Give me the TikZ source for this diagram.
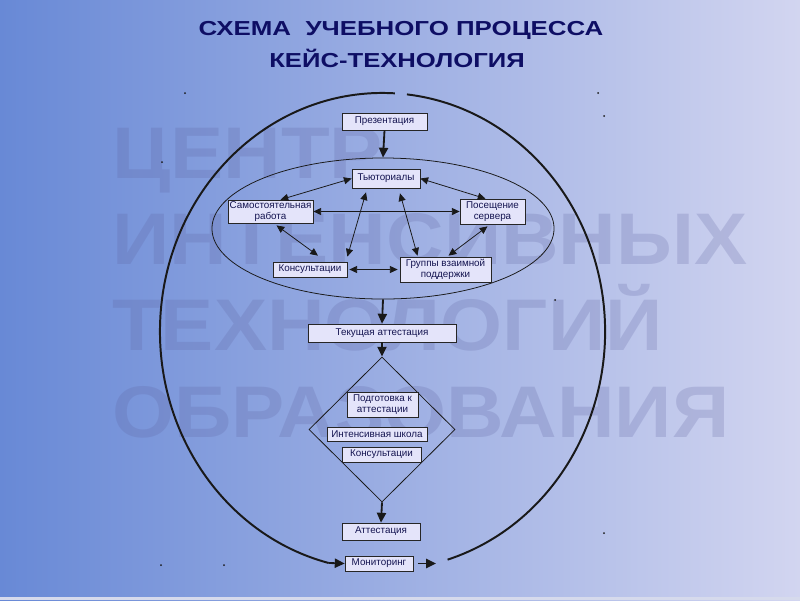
\documentclass[tikz,border=0pt]{standalone}
\usepackage{fontspec}
\setmainfont{Liberation Sans}
\usetikzlibrary{shapes.geometric,arrows.meta,calc}

\definecolor{bgleft}{RGB}{104,137,214}
\definecolor{bgright}{RGB}{210,213,240}
\definecolor{bgstrip}{RGB}{214,218,236}
\definecolor{navy}{RGB}{14,14,100}
\definecolor{boxfill}{RGB}{228,228,250}
\definecolor{boxtext}{RGB}{20,20,80}
\definecolor{wmark}{RGB}{92,96,158}

\begin{document}
\begin{tikzpicture}[
  x=0.025cm, y=-0.025cm,
  title/.style = {font=\fontsize{16}{18}\selectfont\bfseries, text=navy},
  wm/.style    = {font=\fontsize{52}{52}\selectfont\bfseries, text=wmark, text opacity=0.22, inner sep=0pt},
  box/.style   = {draw=black!85, fill=boxfill, line width=0.5pt, inner sep=0pt,
                  align=center, text=boxtext, font=\fontsize{7}{8}\selectfont},
  ring/.style  = {draw=black!90, line width=0.55pt},
  loop/.style  = {draw=black!90, line width=1.4pt},
  link/.style  = {{Triangle[length=5.5pt,width=5pt]}-{Triangle[length=5.5pt,width=5pt]},
                  line width=0.55pt, black!90},
  flow/.style  = {-{Triangle[length=7pt,width=6.5pt]}, line width=1.3pt, black!90},
  speck/.style = {fill=black!90},
]

% outer loop radii: 5.5625cm and 5.9625cm

% ---- background ------------------------------------------------------------
\useasboundingbox (0,0) rectangle (800,600);
\shade[left color=bgleft, right color=bgright] (0,0) rectangle (800,600);
\fill[bgstrip] (0,597) rectangle (800,600);

% ---- watermark -------------------------------------------------------------
\node[wm, anchor=base west] (wmA) at (112,178) {\scalebox{1.09}[1]{ЦЕНТР}};
\node[wm, anchor=base west] (wmB) at (112,264) {\scalebox{1.09}[1]{ИНТЕНСИВНЫХ}};
\node[wm, anchor=base west] (wmC) at (112,350) {\scalebox{1.09}[1]{ТЕХНОЛОГИЙ}};
\node[wm, anchor=base west] (wmD) at (112,437) {\scalebox{1.09}[1]{ОБРАЗОВАНИЯ}};

% ---- title -----------------------------------------------------------------
\node[title] (head) at (401,30) {\scalebox{1.15}[0.9]{СХЕМА\ \ УЧЕБНОГО ПРОЦЕССА}};
\node[title] (sub)  at (397,58) {\scalebox{1.14}[0.9]{КЕЙС-ТЕХНОЛОГИЯ}};

% ---- stray specks ----------------------------------------------------------
\foreach \sx/\sy in {185/93, 598/93, 604/116, 162/162, 555/300, 604/533, 161/565, 224/565}
  \fill[speck] (\sx,\sy) circle (1);

% ---- outer loop ------------------------------------------------------------
\coordinate (hub) at (382.5,331.5);
\node[box, minimum width=1.7cm, minimum height=0.375cm] (monit) at (379,563.5) {Мониторинг};
\coordinate (back) at (436,563.5);
\draw[loop] ($(hub)+(86.8:5.5625cm and 5.9625cm)$) arc[start angle=86.8, end angle=256, x radius=5.5625cm, y radius=5.9625cm];
\draw[flow] ($(hub)+(256:5.5625cm and 5.9625cm)$) -- (monit.west);
\draw[flow] ($(monit.east)+(5,0)$) -- (back);
\draw[loop] ($(hub)+(-73:5.5625cm and 5.9625cm)$) arc[start angle=-73, end angle=83.7, x radius=5.5625cm, y radius=5.9625cm];

% ---- core: self-study cluster ----------------------------------------------
\node[ring, ellipse, minimum width=8.55cm, minimum height=3.525cm, inner sep=0pt] (core) at (383,228.5) {};

\node[box, minimum width=2.125cm, minimum height=0.425cm] (prez)   at (384.5,121.5) {Презентация};
\node[box, minimum width=1.7cm,   minimum height=0.475cm] (tut)    at (386,178.5)   {Тьюториалы};
\node[box, minimum width=2.125cm, minimum height=0.575cm] (samost) at (270.5,211.5) {Самостоятельная\\работа};
\node[box, minimum width=1.625cm, minimum height=0.625cm] (pos)    at (492.5,211.5) {Посещение\\сервера};
\node[box, minimum width=1.85cm,  minimum height=0.375cm] (kons)   at (310,269.5)   {Консультации};
\node[box, minimum width=2.275cm, minimum height=0.625cm] (grp)    at (445.5,269.5) {Группы взаимной\\поддержки};

\draw[link] (tut.west) -- ($(samost.north)+(10,0)$);
\draw[link] (tut.east) -- ($(pos.north)+(-7,0)$);
\draw[link] (samost.east) -- (pos.west);
\draw[link] ($(tut.south)+(-20,4)$) -- ($(kons.north east)+(0,-5)$);
\draw[link] ($(tut.south)+(14,5)$) -- ($(grp.north)+(-28,-1)$);
\draw[link] ($(samost.south)+(6,2)$) -- ($(kons.north)+(8,-6)$);
\draw[link] ($(pos.south)+(-5,2)$) -- ($(grp.north)+(3,-1)$);
\draw[link] ($(kons.east)+(2,0)$) -- ($(grp.west)+(-2,0)$);

% ---- assessment chain ------------------------------------------------------
\node[box, minimum width=3.7cm, minimum height=0.45cm] (tek) at (382,333) {Текущая аттестация};
\node[ring, diamond, minimum width=3.65cm, minimum height=3.625cm, inner sep=0pt] (prep) at (382,429.5) {};
\node[box, minimum width=1.775cm, minimum height=0.625cm] (podg)   at (382.5,404.5) {Подготовка к\\аттестации};
\node[box, minimum width=2.5cm,   minimum height=0.35cm]  (intens) at (377,434)     {Интенсивная школа};
\node[box, minimum width=1.975cm, minimum height=0.375cm] (kons2)  at (381.5,454.5) {Консультации};
\node[box, minimum width=1.95cm,  minimum height=0.425cm] (attest) at (381,531.5)   {Аттестация};

\draw[flow] (prez.south) -- (core.north);
\draw[flow] (core.south) -- (tek.north);
\draw[flow] (tek.south) -- (prep.north);
\draw[flow] (prep.south) -- (attest.north);

\end{tikzpicture}
\end{document}
